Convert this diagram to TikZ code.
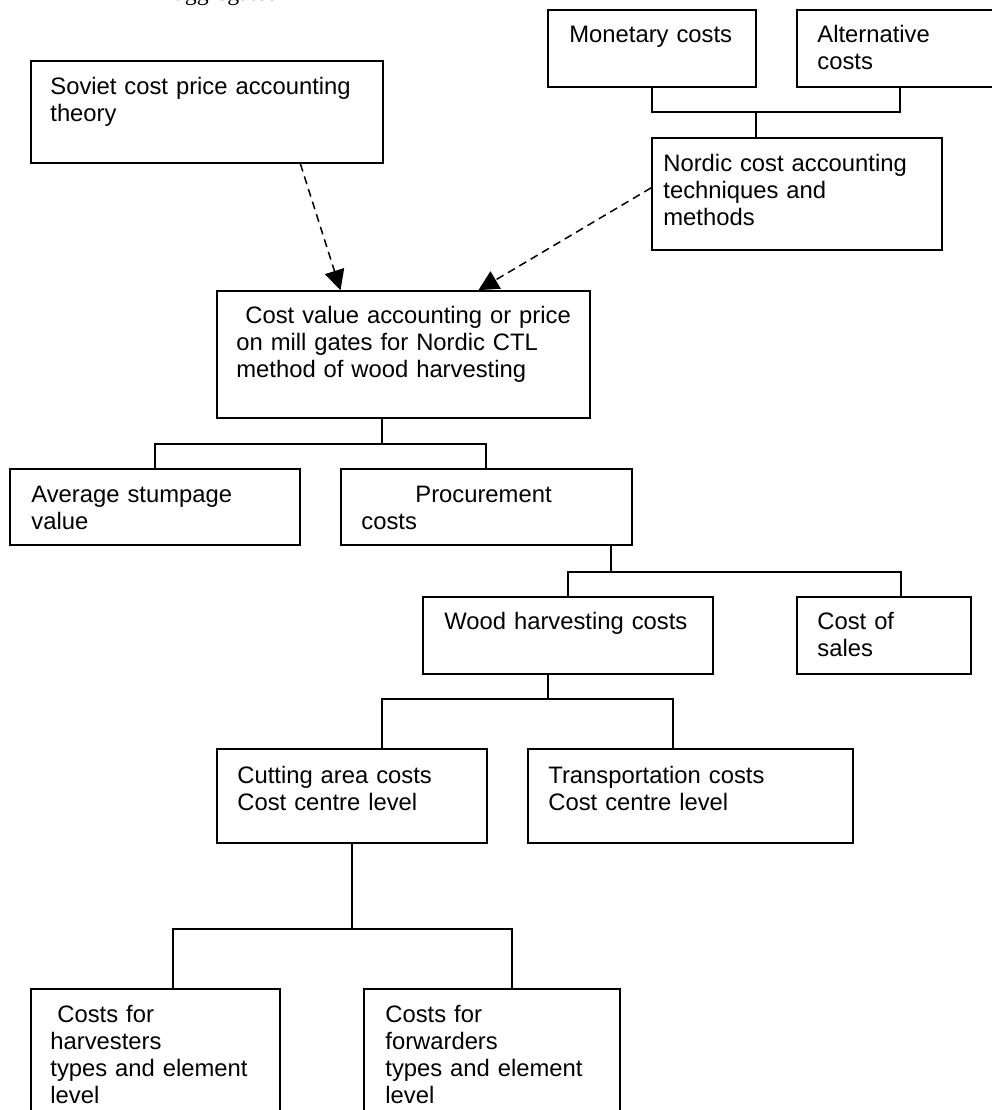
\documentclass[tikz,border=0pt]{standalone}
\usepackage{fontspec}
\setmainfont{Liberation Sans}
\newfontfamily\bodyserif{Liberation Serif}
\usetikzlibrary{arrows.meta,calc,fit}

% box from its upper-left to its lower-right corner
\newcommand\mkbox[5]{%
  \coordinate (#1-a) at (#2,#3);
  \coordinate (#1-b) at (#4,#5);
  \node[cbox, fit=(#1-a)(#1-b)] (#1) {};}

\begin{document}
\begin{tikzpicture}[x=0.5pt,y=-0.5pt,
  cbox/.style={draw, line width=0.85pt, inner sep=0pt, rectangle},
  txt/.style={anchor=base west, inner sep=0pt, text width=190pt, align=left,
              font=\fontsize{11.9pt}{13.5pt}\selectfont},
  link/.style={line width=0.85pt},
  infl/.style={dash pattern=on 4pt off 2.6pt, line width=0.75pt,
               -{Triangle[length=10pt,width=10pt]}}]

\fill[white] (0,0) rectangle (992,1110);
\useasboundingbox (0,0) rectangle (992,1110);

% running text above the chart
\node[anchor=base west, inner sep=0pt,
      font=\bodyserif\fontsize{11.9pt}{13.5pt}\selectfont] (frag) at (174,0) {aggregated};

% boxes
\mkbox{monetary}{548}{10}{756}{87}
\mkbox{altern}{797}{10}{1000}{87}
\mkbox{nordic}{652}{138}{942}{250}
\mkbox{soviet}{31}{61}{383}{163}
\mkbox{costval}{217}{291}{590}{418}
\mkbox{avg}{10}{469}{300}{545}
\mkbox{proc}{341}{469}{632}{545}
\mkbox{wood}{423}{597}{713}{674}
\mkbox{sales}{797}{597}{971}{674}
\mkbox{cutting}{217}{749}{487}{843}
\mkbox{transp}{528}{749}{853}{843}
\mkbox{harv}{31}{989}{280}{1130}
\mkbox{forw}{364}{989}{620}{1130}

% box texts
\node[txt] (monetary-t) at (569,42) {Monetary costs};
\node[txt] (altern-t) at (817,42) {Alternative\\costs};
\node[txt] (nordic-t) at (663,171) {Nordic cost accounting\\techniques and\\methods};
\node[txt] (soviet-t) at (50,94) {Soviet cost price accounting\\theory};
\node[txt] (costval-t) at (236,323) {\hspace*{4.5pt}Cost value accounting or price\\on mill gates for Nordic CTL\\method of wood harvesting};
\node[txt] (avg-t) at (31,502) {Average stumpage\\value};
\node[txt] (proc-t) at (361,502) {\hspace*{27pt}Procurement\\costs};
\node[txt] (wood-t) at (444,629) {Wood harvesting costs};
\node[txt] (sales-t) at (817,629) {Cost of\\sales};
\node[txt] (cutting-t) at (237,783) {Cutting area costs\\Cost centre level};
\node[txt] (transp-t) at (548,783) {Transportation costs\\Cost centre level};
\node[txt] (harv-t) at (50,1022) {\hspace*{3.5pt}Costs for\\harvesters\\types and element\\level};
\node[txt] (forw-t) at (385,1022) {Costs for\\forwarders\\types and element\\level};

% junction points of the tree connectors
\coordinate (m0) at (756,112); \coordinate (m1) at (652,112); \coordinate (m2) at (900,112);
\coordinate (c0) at (382,444); \coordinate (c1) at (155,444); \coordinate (c2) at (486,444);
\coordinate (p0) at (611,572); \coordinate (p1) at (568,572); \coordinate (p2) at (901,572);
\coordinate (w0) at (548,699); \coordinate (w1) at (382,699); \coordinate (w2) at (673,699);
\coordinate (k0) at (352,929); \coordinate (k1) at (173,929); \coordinate (k2) at (512,929);

% tree connectors
\draw[link] (monetary.south -| m1) -- (m1) -- (m2) -- (altern.south -| m2);
\draw[link] (m0) -- (nordic.north -| m0);

\draw[link] (costval.south -| c0) -- (c0);
\draw[link] (avg.north -| c1) -- (c1) -- (c2) -- (proc.north -| c2);

\draw[link] (proc.south -| p0) -- (p0);
\draw[link] (wood.north -| p1) -- (p1) -- (p2) -- (sales.north -| p2);

\draw[link] (wood.south -| w0) -- (w0);
\draw[link] (cutting.north -| w1) -- (w1) -- (w2) -- (transp.north -| w2);

\draw[link] (cutting.south -| k0) -- (k0);
\draw[link] (harv.north -| k1) -- (k1) -- (k2) -- (forw.north -| k2);

% dashed influences
\draw[infl] ($(soviet.south west)!0.764!(soviet.south east)$)
         -- ($(costval.north west)!0.332!(costval.north east)$);
\draw[infl] ($(nordic.north west)!0.446!(nordic.south west)$)
         -- ($(costval.north west)!0.70!(costval.north east)$);
\end{tikzpicture}
\end{document}
